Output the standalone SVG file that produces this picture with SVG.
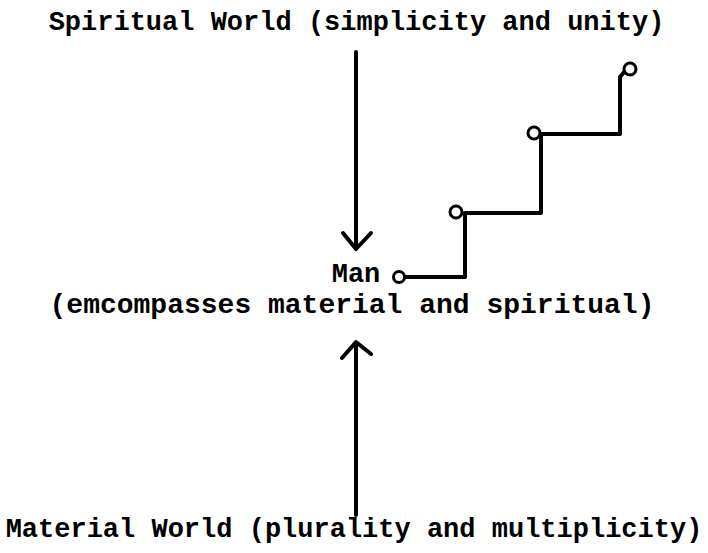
<svg xmlns="http://www.w3.org/2000/svg" width="708" height="553" viewBox="0 0 708 553">
<style>
.t{font-family:"Liberation Mono","Courier New",monospace;font-weight:bold;font-size:27px;fill:#000;text-anchor:middle}
.ln{stroke:#000;stroke-width:4;fill:none;stroke-linecap:round;stroke-linejoin:round}
.nd{stroke:#000;stroke-width:3;fill:#fff}
</style>
<rect width="708" height="553" fill="#fff"/>
<g id="spiritual"><text class="t" x="356.5" y="30">Spiritual World (simplicity and unity)</text></g>
<g id="man"><text class="t" x="356" y="282">Man</text>
<text class="t" x="352" y="313" style="font-size:28px">(emcompasses material and spiritual)</text></g>
<g id="material"><text class="t" x="354" y="537">Material World (plurality and multiplicity)</text></g>
<g id="connectors">
<path class="ln" d="M356 52 V248 M343 233 L356 249 L371 233"/>
<path class="ln" d="M356 515 V343 M342 358 L356 342 L371 354"/>
<path class="ln" d="M405 277 H465 V213 H541 V134 H620 V77 L625 71"/>
</g>
<g id="step0"><circle class="nd" cx="399" cy="277" r="5.5"/></g>
<g id="step1"><circle class="nd" cx="456" cy="212" r="6"/></g>
<g id="step2"><circle class="nd" cx="534" cy="133" r="6"/></g>
<g id="step3"><circle class="nd" cx="630" cy="69" r="6"/></g>
</svg>
